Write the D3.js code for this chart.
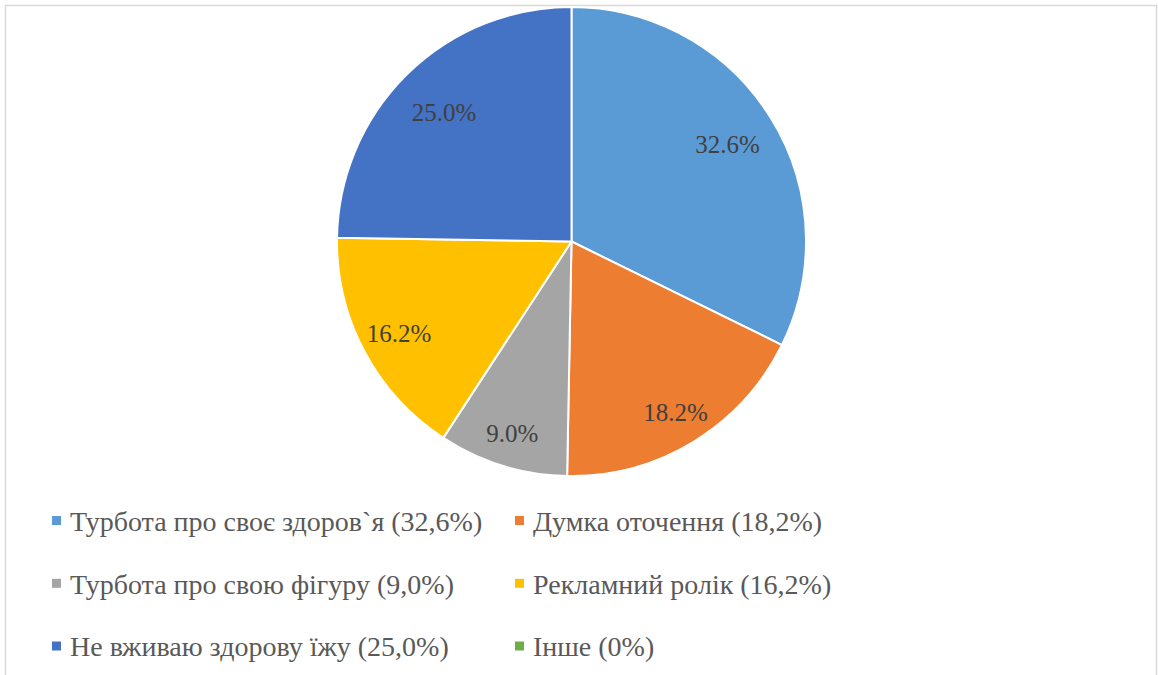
<!DOCTYPE html>
<html>
<head>
<meta charset="utf-8">
<script src="https://cdn.jsdelivr.net/npm/d3@7"></script>
<style>
  html, body { margin: 0; padding: 0; background: #fff; }
  svg { display: block; }
  svg text { font-family: "Liberation Serif", "Times New Roman", Tinos, serif; }
</style>
</head>
<body>
<svg id="chart" width="1158" height="675"></svg>
<script>
const categories = [
  "Турбота про своє здоров`я (32,6%)",
  "Думка оточення (18,2%)",
  "Турбота про свою фігуру (9,0%)",
  "Рекламний ролік (16,2%)",
  "Не вживаю здорову їжу (25,0%)",
  "Інше (0%)"
];
const values = [32.6, 18.2, 9.0, 16.2, 25.0, 0];
const valueLabels = ["32.6%", "18.2%", "9.0%", "16.2%", "25.0%", ""];
const colors = ["#5B9BD5", "#ED7D31", "#A5A5A5", "#FFC000", "#4472C4", "#70AD47"];

const svg = d3.select("#chart");
const W = 1158, H = 675;

// chart frame
svg.append("rect")
  .attr("x", 5.5).attr("y", 5.5)
  .attr("width", W - 7).attr("height", H + 10)
  .attr("fill", "#fff").attr("stroke", "#d9d9d9").attr("stroke-width", 1.5);

const cx = 571.5, cy = 241.5, R = 234.5;
const pie = d3.pie().sort(null).value(d => d)(values);
const arc = d3.arc().innerRadius(0).outerRadius(R);
const color = d3.scaleOrdinal().domain(d3.range(values.length)).range(colors);

const g = svg.append("g").attr("transform", `translate(${cx},${cy})`);
g.selectAll("path.slice")
  .data(pie.filter(d => d.value > 0))
  .join("path")
  .attr("class", "slice")
  .attr("d", arc)
  .attr("fill", d => color(d.index))
  .attr("stroke", "#fff")
  .attr("stroke-width", 2)
  .attr("stroke-linejoin", "round");

// data labels near the outer edge ("inside end")
g.selectAll("text.lbl")
  .data(pie.filter(d => d.value > 0))
  .join("text")
  .attr("class", "lbl")
  .style("font-size", "25px")
  .attr("fill", "#404040")
  .attr("text-anchor", "middle")
  .attr("dominant-baseline", "central")
  .text(d => valueLabels[d.index])
  .each(function(d) {
    const a = (d.startAngle + d.endAngle) / 2;
    const ux = Math.sin(a), uy = -Math.cos(a);
    const r = R * (0.81 + 0.05 * uy);
    d3.select(this).attr("x", ux * r).attr("y", uy * r);
  });

// legend
const legendCols = [52, 515];
const legendRows = [520.5, 583.3, 646];
const lg = svg.append("g");
const items = lg.selectAll("g.item")
  .data(categories)
  .join("g")
  .attr("class", "item")
  .attr("transform", (d, i) => `translate(${legendCols[i % 2]},${legendRows[Math.floor(i / 2)]})`);
items.append("rect")
  .attr("x", 0).attr("y", -4.5)
  .attr("width", 9).attr("height", 9)
  .attr("fill", (d, i) => colors[i]);
items.append("text")
  .attr("x", 18).attr("y", 10.3)
  .style("font-size", "28px")
  .attr("fill", "#595959")
  .text(d => d);
</script>
</body>
</html>
